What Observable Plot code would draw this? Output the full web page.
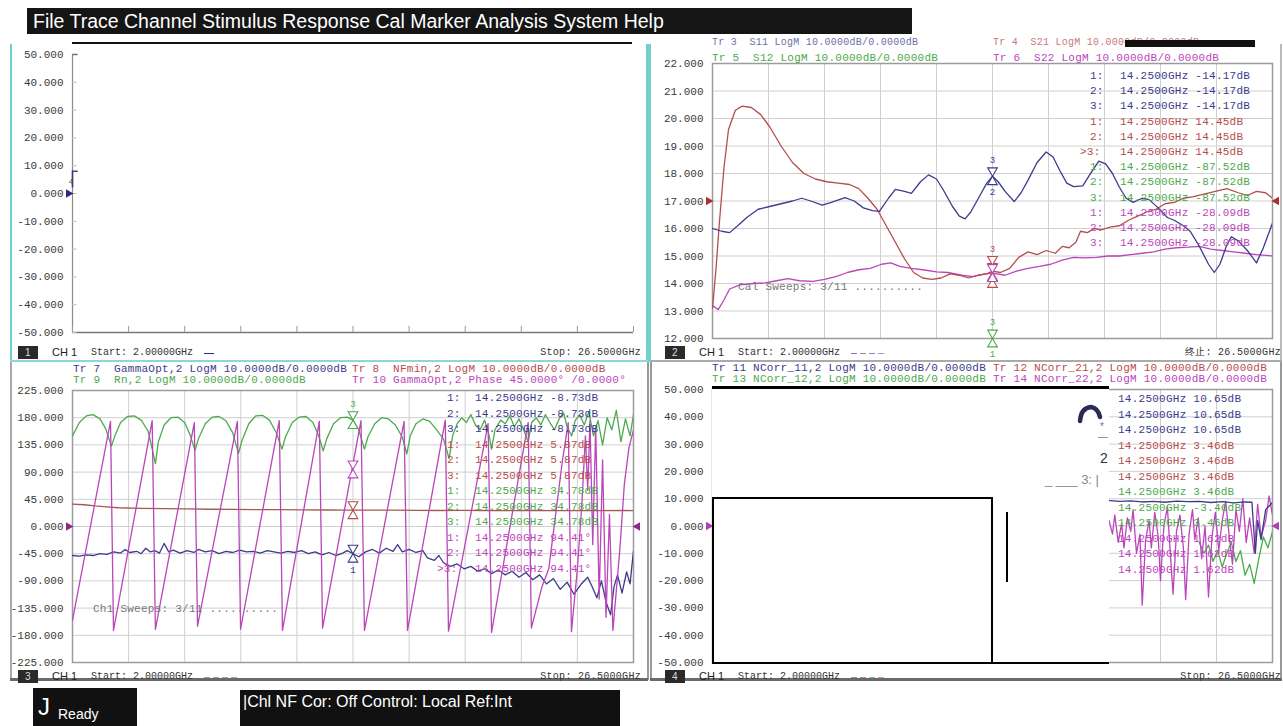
<!DOCTYPE html>
<html><head><meta charset="utf-8">
<script src="https://cdn.jsdelivr.net/npm/d3@7"></script>
<script src="https://cdn.jsdelivr.net/npm/@observablehq/plot@0.6"></script>
<style>
html,body{margin:0;padding:0;background:#fff;}
#app{position:relative;width:1283px;height:726px;overflow:hidden;background:#fff;}
.m{font-family:"Liberation Mono",monospace;font-size:11px;line-height:12px;white-space:pre;letter-spacing:0.25px;position:absolute;}
.s{font-family:"Liberation Sans",Arial,sans-serif;white-space:pre;position:absolute;}
</style></head>
<body><div id="app"></div>
<script>
// ---------- DATA ----------
const freqDomain = [2, 26.5];
const xGrid = [2, 4.45, 6.9, 9.35, 11.8, 14.25, 16.7, 19.15, 21.6, 24.05, 26.5];
const ticks1 = [50, 40, 30, 20, 10, 0, -10, -20, -30, -40, -50];
const ticks2 = [22, 21, 20, 19, 18, 17, 16, 15, 14, 13, 12];
const ticks3 = [225, 180, 135, 90, 45, 0, -45, -90, -135, -180, -225];
const ticks4 = [50, 40, 30, 20, 10, 0, -10, -20, -30, -40, -50];

const menuText = "File Trace Channel Stimulus Response Cal Marker Analysis System Help";
const statusReady = "Ready";
const statusBar = "|Chl NF Cor: Off Control: Local Ref:Int";

// Panel 2 (S-parameters, dB)
const p2Red = [[2.0,13.1],[2.15,14.5],[2.3,16.2],[2.5,18.2],[2.7,19.6],[3.0,20.3],[3.3,20.45],[3.7,20.4],[4.1,20.15],[4.5,19.7],[5.0,19.0],[5.5,18.4],[6.0,18.0],[6.5,17.8],[7.0,17.7],[7.5,17.65],[8.0,17.6],[8.4,17.45],[8.8,17.1],[9.2,16.7],[9.6,16.1],[10.0,15.5],[10.4,14.9],[10.8,14.4],[11.2,14.2],[11.6,14.15],[12.0,14.2],[12.4,14.35],[12.8,14.3],[13.2,14.2],[13.6,14.3],[14.0,14.35],[14.25,14.45],[14.6,14.4],[15.0,14.55],[15.4,14.95],[15.8,15.15],[16.2,15.05],[16.6,15.2],[17.0,15.1],[17.3,15.35],[17.6,15.3],[17.9,15.5],[18.1,15.9],[18.4,15.85],[18.7,16.0],[19.0,15.95],[19.4,16.05],[19.8,16.1],[20.2,16.3],[20.6,16.45],[21.0,16.6],[21.4,16.7],[21.8,16.9],[22.2,16.95],[22.6,17.1],[23.0,17.15],[23.5,17.25],[24.0,17.35],[24.5,17.45],[25.0,17.3],[25.4,17.2],[25.8,17.35],[26.2,17.3],[26.5,17.1]];
const p2Blue = [[2.0,16.0],[2.4,15.9],[2.75,15.85],[3.1,16.1],[3.5,16.4],[4.0,16.7],[4.5,16.8],[5.0,16.9],[5.5,17.0],[5.9,17.1],[6.3,17.0],[6.8,16.85],[7.2,16.95],[7.8,17.12],[8.2,17.0],[8.6,16.75],[9.0,16.65],[9.3,16.62],[9.7,17.1],[10.0,17.42],[10.4,17.35],[10.7,17.28],[11.1,17.7],[11.45,17.95],[11.8,17.8],[12.1,17.4],[12.5,16.8],[12.8,16.45],[13.05,16.35],[13.3,16.6],[13.7,17.2],[14.0,17.65],[14.25,17.9],[14.5,17.7],[14.8,17.35],[15.2,16.98],[15.5,17.3],[15.8,17.75],[16.2,18.4],[16.6,18.78],[16.9,18.6],[17.2,18.1],[17.5,17.65],[17.8,17.52],[18.2,17.55],[18.5,17.95],[18.9,18.45],[19.2,18.35],[19.5,18.0],[19.8,17.5],[20.1,17.1],[20.4,16.95],[20.8,17.1],[21.1,17.05],[21.5,16.75],[21.9,16.4],[22.2,16.3],[22.6,16.1],[22.9,15.9],[23.3,15.35],[23.7,14.7],[23.95,14.4],[24.2,14.7],[24.5,15.4],[24.7,15.7],[25.0,15.55],[25.4,15.2],[25.8,14.75],[26.1,15.3],[26.5,16.2]];
const p2Mag = [[2.0,13.2],[2.25,13.05],[2.5,13.4],[2.75,13.8],[3.2,13.95],[3.8,14.0],[4.3,14.02],[4.8,14.1],[5.3,14.18],[5.8,14.1],[6.4,14.08],[6.9,14.15],[7.4,14.25],[7.9,14.4],[8.4,14.5],[8.9,14.55],[9.4,14.7],[9.8,14.75],[10.2,14.62],[10.7,14.55],[11.2,14.5],[11.8,14.42],[12.3,14.4],[12.9,14.3],[13.4,14.25],[13.9,14.35],[14.25,14.38],[14.8,14.3],[15.3,14.45],[15.8,14.55],[16.3,14.62],[16.8,14.7],[17.3,14.85],[17.8,14.95],[18.3,14.93],[18.8,14.95],[19.3,15.0],[19.8,15.0],[20.3,15.05],[20.8,15.1],[21.3,15.15],[21.8,15.25],[22.3,15.3],[22.8,15.32],[23.3,15.35],[23.8,15.25],[24.3,15.2],[24.8,15.15],[25.3,15.1],[25.8,15.05],[26.5,15.0]];

// Panel 3 (noise parameters)
const p3Green = [[2.0,150],[2.3,172],[2.6,183],[2.9,185],[3.2,178],[3.45,162],[3.7,133],[3.85,150],[4.1,172],[4.4,182],[4.7,183],[5.0,176],[5.3,158],[5.5,125],[5.62,104],[5.75,140],[6.0,168],[6.3,180],[6.6,181],[6.9,172],[7.15,150],[7.35,126],[7.5,145],[7.8,170],[8.1,181],[8.4,182],[8.7,175],[9.0,155],[9.25,121],[9.4,142],[9.7,170],[10.0,183],[10.3,184],[10.6,176],[10.9,155],[11.15,128],[11.3,148],[11.6,172],[11.9,181],[12.2,182],[12.5,172],[12.75,150],[12.95,125],[13.1,145],[13.4,170],[13.7,180],[14.0,181],[14.25,176],[14.5,160],[14.75,128],[14.9,148],[15.2,170],[15.5,180],[15.8,178],[16.1,168],[16.4,148],[16.6,120],[16.75,150],[17.0,170],[17.3,178],[17.6,174],[17.9,160],[18.2,145],[18.45,112],[18.6,150],[18.8,170],[19.0,180],[19.2,172],[19.4,185],[19.6,168],[19.8,160],[20.0,176],[20.2,150],[20.3,128],[20.45,160],[20.7,176],[20.9,170],[21.1,183],[21.3,165],[21.5,178],[21.7,160],[21.9,140],[22.05,172],[22.25,180],[22.45,168],[22.65,185],[22.85,172],[23.05,160],[23.25,178],[23.45,188],[23.6,165],[23.8,150],[23.95,175],[24.15,185],[24.35,168],[24.55,190],[24.75,150],[24.95,175],[25.15,135],[25.35,180],[25.55,160],[25.75,192],[25.95,140],[26.15,178],[26.35,150],[26.5,185]];
const p3Phase = [[2.0,-155],[3.66,174],[3.79,-172],[5.48,175],[5.62,-170],[7.32,172],[7.46,-165],[9.2,174],[9.34,-170],[11.03,175],[11.17,-172],[12.78,174],[12.92,-168],[14.6,175],[14.75,-172],[16.48,174],[16.63,-172],[18.28,176],[18.42,-173],[20.15,170],[20.3,-175],[21.9,172],[22.04,-168],[22.5,-100],[22.8,-70],[23.1,20],[23.4,110],[23.65,172],[23.79,-174],[24.05,-70],[24.25,40],[24.4,150],[24.5,60],[24.6,175],[24.72,-30],[24.85,165],[25.0,-120],[25.15,110],[25.3,-150],[25.45,20],[25.6,-172],[25.9,-40],[26.1,70],[26.3,130],[26.5,160]];
const p3Red = [[2,37],[2.5,36],[3,34],[3.5,32.5],[4,31],[5,30],[6,29.5],[7,29],[8,28.5],[9,28.2],[10,28],[11,27.8],[12,27.5],[13,27.3],[14,27.2],[15,27],[16,27],[17,26.8],[18,26.5],[19,26.8],[20,26.5],[21,26.3],[22,26.5],[23,26.2],[24,26.4],[25,26.2],[26,26.5],[26.5,26.2]];
const p3Blue = [[2.0,-48],[2.3,-49],[2.6,-47],[2.9,-48],[3.2,-45],[3.5,-46],[3.8,-42],[4.1,-44],[4.3,-38],[4.5,-43],[4.8,-41],[5.0,-45],[5.2,-36],[5.4,-42],[5.6,-40],[5.8,-44],[6.0,-28],[6.2,-42],[6.4,-39],[6.7,-44],[7.0,-40],[7.3,-43],[7.5,-38],[7.8,-42],[8.1,-40],[8.4,-45],[8.7,-41],[9.0,-43],[9.3,-39],[9.6,-42],[9.9,-41],[10.2,-44],[10.5,-40],[10.8,-42],[11.1,-44],[11.4,-41],[11.7,-43],[12.0,-40],[12.3,-45],[12.6,-42],[12.9,-47],[13.2,-43],[13.5,-48],[13.8,-44],[14.0,-40],[14.25,-45],[14.5,-50],[14.8,-42],[15.1,-38],[15.4,-44],[15.7,-36],[16.0,-41],[16.2,-30],[16.4,-42],[16.7,-38],[17.0,-43],[17.3,-40],[17.5,-52],[17.8,-56],[18.0,-48],[18.2,-60],[18.5,-66],[18.8,-62],[19.1,-70],[19.4,-66],[19.7,-74],[20.0,-70],[20.3,-78],[20.6,-72],[20.9,-80],[21.2,-74],[21.5,-84],[21.8,-76],[22.1,-88],[22.4,-80],[22.7,-95],[23.0,-86],[23.3,-104],[23.6,-92],[23.9,-112],[24.2,-96],[24.5,-84],[24.7,-100],[24.9,-118],[25.1,-90],[25.3,-125],[25.5,-146],[25.65,-100],[25.8,-80],[26.0,-110],[26.2,-75],[26.35,-95],[26.5,-40]];

// Panel 4 (noise correlation, visible part)
const p4Blue = [[19.3,9.4],[19.8,9.0],[20.3,9.2],[20.8,8.8],[21.3,9.0],[21.8,8.7],[22.3,9.1],[22.8,8.9],[23.3,9.0],[23.8,8.6],[24.3,8.9],[24.8,8.5],[25.3,8.8],[25.6,8.7],[25.75,-10],[25.85,2],[26.0,-5],[26.2,6],[26.5,8.6]];
const p4Mag = [[19.35,2],[19.5,-3],[19.6,4],[19.75,-6],[19.9,1],[20.0,-8],[20.15,3],[20.3,-2],[20.4,6],[20.55,-10],[20.7,-3],[20.8,-29],[20.95,-5],[21.1,2],[21.2,-8],[21.35,5],[21.5,-4],[21.6,-20],[21.75,0],[21.9,7],[22.0,-6],[22.15,-25],[22.3,-2],[22.45,4],[22.6,-8],[22.7,-27],[22.85,-3],[23.0,6],[23.1,-5],[23.25,3],[23.4,-12],[23.55,0],[23.7,-26],[23.85,-4],[24.0,5],[24.15,-9],[24.3,2],[24.45,9],[24.6,-3],[24.75,-14],[24.9,6],[25.05,-2],[25.2,10],[25.35,-6],[25.5,3],[25.7,-10],[25.85,8],[26.0,-4],[26.2,2],[26.35,11],[26.5,4]];
const p4Green = [[23.3,-6],[23.5,-10],[23.7,-7],[23.9,-13],[24.1,-9],[24.3,-15],[24.5,-10],[24.7,-6],[24.9,-13],[25.1,-9],[25.3,-18],[25.5,-14],[25.7,-21],[25.9,-12],[26.1,-4],[26.3,-8],[26.5,-2]];

// Marker readouts
const list2 = [["1:","14.2500GHz -14.17dB","blue"],["2:","14.2500GHz -14.17dB","blue"],["3:","14.2500GHz -14.17dB","blue"],["1:","14.2500GHz 14.45dB","red"],["2:","14.2500GHz 14.45dB","red"],[">3:","14.2500GHz 14.45dB","red"],["1:","14.2500GHz -87.52dB","green"],["2:","14.2500GHz -87.52dB","green"],["3:","14.2500GHz -87.52dB","green"],["1:","14.2500GHz -28.09dB","mag"],["2:","14.2500GHz -28.09dB","mag"],["3:","14.2500GHz -28.09dB","mag"]];
const list3 = [["1:","14.2500GHz -8.73dB","blue"],["2:","14.2500GHz -8.73dB","blue"],["3:","14.2500GHz -8.73dB","blue"],["1:","14.2500GHz 5.87dB","red"],["2:","14.2500GHz 5.87dB","red"],["3:","14.2500GHz 5.87dB","red"],["1:","14.2500GHz 34.78dB","green"],["2:","14.2500GHz 34.78dB","green"],["3:","14.2500GHz 34.78dB","green"],["1:","14.2500GHz 94.41°","mag"],["2:","14.2500GHz 94.41°","mag"],[">3:","14.2500GHz 94.41°","mag"]];
const list4 = [["","14.2500GHz 10.65dB","blue"],["","14.2500GHz 10.65dB","blue"],["","14.2500GHz 10.65dB","blue"],["","14.2500GHz 3.46dB","red"],["","14.2500GHz 3.46dB","red"],["","14.2500GHz 3.46dB","red"],["","14.2500GHz 3.46dB","green"],["","14.2500GHz -3.46dB","green"],["","14.2500GHz 3.46dB","green"],["","14.2500GHz 1.62dB","mag"],["","14.2500GHz 1.62dB","mag"],["","14.2500GHz 1.62dB","mag"]];

const legend2 = [["Tr 3  S11 LogM 10.0000dB/0.0000dB","blue"],["Tr 4  S21 LogM 10.0000dB/0.0000dB","red"],["Tr 5  S12 LogM 10.0000dB/0.0000dB","green"],["Tr 6  S22 LogM 10.0000dB/0.0000dB","mag"]];
const legend3 = [["Tr 7  GammaOpt,2 LogM 10.0000dB/0.0000dB","blue"],["Tr 8  NFmin,2 LogM 10.0000dB/0.0000dB","red"],["Tr 9  Rn,2 LogM 10.0000dB/0.0000dB","green"],["Tr 10 GammaOpt,2 Phase 45.0000° /0.0000°","mag"]];
const legend4 = [["Tr 11 NCorr_11,2 LogM 10.0000dB/0.0000dB","blue"],["Tr 12 NCorr_21,2 LogM 10.0000dB/0.0000dB","red"],["Tr 13 NCorr_12,2 LogM 10.0000dB/0.0000dB","green"],["Tr 14 NCorr_22,2 LogM 10.0000dB/0.0000dB","mag"]];

// ---------- STYLE ----------
const COL = {blue:"#3b3b8c", red:"#b64c4c", green:"#4caa4c", mag:"#bb45bb", brown:"#a45a52"};
const app = document.getElementById("app");
function box(x,y,w,h,css){const d=document.createElement("div");d.style.cssText=`position:absolute;left:${x}px;top:${y}px;width:${w}px;height:${h}px;${css||""}`;app.appendChild(d);return d;}
function txt(cls,x,y,s,css){const d=document.createElement("div");d.className=cls;d.textContent=s;d.style.cssText+=`left:${x}px;top:${y}px;${css||""}`;app.appendChild(d);return d;}

function markerMarks(list){
  const out=[];
  for(const mk of list){
    const c=COL[mk.c];
    for(let k=0;k<(mk.n||1);k++){
      out.push(Plot.dot([mk],{x:"x",y:"y",symbol:"triangle",r:3.6,rotate:180,dy:-5.6-k*7,stroke:c,fill:"white",strokeWidth:1.1}));
      out.push(Plot.dot([mk],{x:"x",y:"y",symbol:"triangle",r:3.6,dy:5.6+k*7,stroke:c,fill:"white",strokeWidth:1.1}));
    }
    const off=(mk.n||1)*7+9;
    if(mk.top) out.push(Plot.text([mk],{x:"x",y:"y",text:()=>mk.top,dy:-off,fill:c,fontSize:9}));
    if(mk.bottom) out.push(Plot.text([mk],{x:"x",y:"y",text:()=>mk.bottom,dy:off,fill:c,fontSize:9}));
  }
  return out;
}

function makePanel(p){
  const marks=[];
  if(p.grid){
    marks.push(Plot.gridX(xGrid,{stroke:"#cfcfcf",strokeOpacity:1}));
    marks.push(Plot.gridY(p.ticks,{stroke:"#cfcfcf",strokeOpacity:1}));
    marks.push(Plot.frame({stroke:"#9c9c9c",strokeWidth:1.5}));
  }
  (p.extra||[]).forEach(m=>marks.push(m));
  for(const s of (p.series||[])){
    marks.push(Plot.line(s.data,{x:d=>d[0],y:d=>d[1],stroke:s.color,strokeWidth:s.w||1.3,clip:true}));
  }
  markerMarks(p.markers||[]).forEach(m=>marks.push(m));
  marks.push(Plot.axisY(p.ticks,{tickSize:0,tickPadding:9,tickFormat:d=>d.toFixed(3),color:"#3a3a3a",fontSize:11,label:null}));
  for(const r of (p.refs||[])){
    marks.push(Plot.dot([r.y],{y:d=>d,frameAnchor:"left",symbol:"triangle",rotate:90,r:3.2,fill:r.color,dx:-4}));
    if(r.right) marks.push(Plot.dot([r.y],{y:d=>d,frameAnchor:"right",symbol:"triangle",rotate:-90,r:3.2,fill:r.color,dx:4}));
  }
  const svg=Plot.plot({width:p.w,height:p.h,marginLeft:p.ml,marginRight:p.mr,marginTop:p.mt,marginBottom:p.mb,
    x:{domain:freqDomain,axis:null},y:{domain:p.domain,label:null},
    style:{background:"transparent",fontFamily:"Liberation Mono, monospace",fontSize:"11px",overflow:"visible"},
    marks});
  svg.style.position="absolute";svg.style.left=p.x+"px";svg.style.top=p.y+"px";
  app.appendChild(svg);
}

// ---------- MENU BAR ----------
box(27,8,885,26,"background:#151515;");
txt("s",33,8,menuText,"color:#fff;font-size:19.5px;line-height:26px;");
box(72,42,560,1.5,"background:#111;");

// ---------- PANEL FRAMES ----------
box(10,44,2,318,"background:#6fd0d0;");
box(646,44,2.5,318,"background:#6fd0d0;");
box(10,360,638,2,"background:#8fd6d6;");
box(649,44,2,318,"background:#6fd0d0;");
box(1280,44,2,318,"background:#bbb;");
box(651,360,631,1.5,"background:#aaa;");
box(10,362,1.5,318,"background:#aaa;");
box(647,362,1.5,318,"background:#999;");
box(650,362,1.5,318,"background:#999;");
box(1280,362,2,318,"background:#999;");
box(10,678,638,3,"background:#6a6a6a;");
box(650,678,632,3,"background:#6a6a6a;");

// ---------- PANEL 1 ----------
makePanel({x:0,y:44,w:648,h:318,ml:72,mr:15,mt:10,mb:30,domain:[-50,50],ticks:ticks1,grid:false,
  extra:[
    Plot.ruleX([2],{stroke:"#8a8a8a",strokeWidth:1.2}),
    Plot.ruleY([-50],{stroke:"#777",strokeWidth:1.5}),
    Plot.ruleX(xGrid,{x:d=>d,y1:-50,y2:-47.8,stroke:"#9a9a9a"}),
    Plot.ruleY(ticks1,{y:d=>d,x1:2,x2:2.2,stroke:"#bdbdbd"}),
    Plot.ruleY([50],{x1:2,x2:2.25,stroke:"#777",strokeWidth:1.5}),
    Plot.ruleX([2],{y1:2,y2:8,stroke:"#3c3c6c",strokeWidth:1.6}),
    Plot.ruleY([8],{x1:2,x2:2.25,stroke:"#3c3c6c",strokeWidth:1.4}),
    Plot.text(["4"],{y:()=>4.5,frameAnchor:"left",dx:-4,text:d=>d,fontSize:8,fill:"#556"})
  ],
  refs:[{y:0,color:"#2c2c7c"}]});

// ---------- PANEL 2 ----------
makePanel({x:648,y:44,w:635,h:318,ml:64,mr:11,mt:19,mb:24,domain:[12,22],ticks:ticks2,grid:true,
  series:[{data:p2Mag,color:COL.mag},{data:p2Red,color:COL.red},{data:p2Blue,color:COL.blue}],
  markers:[{x:14.25,y:17.9,c:"blue",top:"3",bottom:"2"},{x:14.25,y:14.42,c:"red",n:2,top:"3"},{x:14.25,y:14.38,c:"mag",n:1},{x:14.25,y:12,c:"green",top:"3",bottom:"1"}],
  refs:[{y:17,color:"#a83030",right:true}]});

// ---------- PANEL 3 ----------
makePanel({x:0,y:362,w:648,h:320,ml:72,mr:15,mt:28,mb:20,domain:[-225,225],ticks:ticks3,grid:true,
  series:[{data:p3Red,color:COL.brown},{data:p3Blue,color:COL.blue},{data:p3Green,color:COL.green},{data:p3Phase,color:COL.mag}],
  markers:[{x:14.25,y:176,c:"green",top:"3"},{x:14.25,y:94.4,c:"mag"},{x:14.25,y:27,c:"red"},{x:14.25,y:-45,c:"blue",bottom:"1"}],
  refs:[{y:0,color:"#8a2a8a",right:true}]});

// ---------- PANEL 4 ----------
makePanel({x:648,y:362,w:635,h:320,ml:64,mr:11,mt:27,mb:20,domain:[-50,50],ticks:ticks4,grid:true,
  series:[{data:p4Green,color:COL.green},{data:p4Mag,color:COL.mag},{data:p4Blue,color:COL.blue}],
  refs:[{y:0,color:"#b040b0",right:true}]});

// ---------- LEGENDS ----------
function legend(lst,x1,x2,y1,y2){
  txt("m",x1,y1,lst[0][0],`color:${COL[lst[0][1]]};`);
  txt("m",x2,y1,lst[1][0],`color:${COL[lst[1][1]]};`);
  txt("m",x1,y2,lst[2][0],`color:${COL[lst[2][1]]};`);
  txt("m",x2,y2,lst[3][0],`color:${COL[lst[3][1]]};`);
}
// panel 2: first legend line sits in the gap just under the menu bar
txt("m",712,38,legend2[0][0],`color:${COL.blue};font-size:10px;line-height:10px;opacity:0.75;`);
txt("m",993,38,legend2[1][0],`color:${COL.red};font-size:10px;line-height:10px;opacity:0.75;`);
box(1125,40,130,7,"background:#111;");
txt("m",712,52,legend2[2][0],`color:${COL.green};`);
txt("m",993,52,legend2[3][0],`color:${COL.mag};`);
legend(legend3,73,352,363,374);
legend(legend4,712,993,362,373);

// ---------- MARKER LISTS ----------
function mlist(lst,xn,xt,y0,step){
  lst.forEach((r,i)=>{
    const y=y0+i*step;
    if(r[0]) txt("m",r[0].startsWith(">")?xn-10:xn,y,r[0],`color:${COL[r[2]]};`);
    txt("m",xt,y,r[1],`color:${COL[r[2]]};`);
  });
}
mlist(list2,1090,1120,70,15.2);
mlist(list3,447,475,392,15.5);
mlist(list4,0,1118,393,15.5);

// ---------- SWEEP TEXTS ----------
txt("m",738,281,"Cal Sweeps: 3/11 ..........","color:#777;");
txt("m",93,603,"Ch1 Sweeps: 3/11 ..........","color:#777;");

// ---------- PANEL 4 OVERLAY ----------
box(712,387,397,277,"background:#fff;");
box(712,386,397,2.6,"background:#000;");
box(712,497,281,167,"border:2px solid #000;box-sizing:border-box;background:#fff;");
box(712,662,397,2.4,"background:#000;");
box(1006,512,1.6,70,"background:#000;");
{const d=box(1076,402,28,22,"");d.innerHTML='<svg width="28" height="22"><path d="M4,19 Q5,6 15,5 Q22,6 24,15" fill="none" stroke="#2b2b55" stroke-width="4.5" stroke-linecap="round"/></svg>';}
txt("s",1100,421,"*","color:#777;font-size:10px;");
box(1098,437,10,1,"background:#999;");
txt("s",1100,450,"2","color:#333;font-size:14px;line-height:16px;");
txt("s",1045,472,"_ ___ 3: |","color:#888;font-size:13px;line-height:16px;");

// ---------- FOOTERS ----------
function footer(x0,y,num,dashes,stopText,stopRight){
  box(x0,y-7,20,13,"background:#2a2a2a;");
  txt("s",x0+7,y-7,num,"color:#ddd;font-size:10px;line-height:13px;");
  txt("s",x0+34,y-7,"CH 1","color:#222;font-size:11px;line-height:13px;");
  txt("m",x0+73,y-6,"Start: 2.00000GHz","color:#333;font-size:10px;letter-spacing:0px;");
  dashes.forEach((c,i)=>box(x0+186+i*9,y,dashes.length===1?10:6,1.4,`background:${c};`));
  const d=txt("m",0,y-6,stopText,"color:#333;font-size:10px;letter-spacing:0.3px;");
  d.style.left="auto";d.style.right=(1283-stopRight)+"px";
}
footer(18,353,"1",["#2c2c7c"],"Stop: 26.5000GHz",641);
footer(665,353,"2",["#7a7ab0","#b08080","#8a8ab0","#9a9ab8"],"终止: 26.5000GHz",1281);
footer(18,677,"3",["#9a9ac0","#c09090","#a0a0c8","#b0a0c8"],"Stop: 26.5000GHz",641);
footer(665,677,"4",["#8a8ac0","#d08080","#80c080","#d090d0"],"Stop: 26.5000GHz",1281);

// ---------- STATUS BAR ----------
box(33,688,104,38,"background:#111;");
txt("s",38,694,"J","color:#fff;font-size:24px;line-height:26px;");
txt("s",58,705,statusReady,"color:#fff;font-size:14px;line-height:18px;");
box(240,690,380,36,"background:#111;");
txt("s",243,692,statusBar,"color:#fff;font-size:16px;line-height:20px;");
</script></body></html>
